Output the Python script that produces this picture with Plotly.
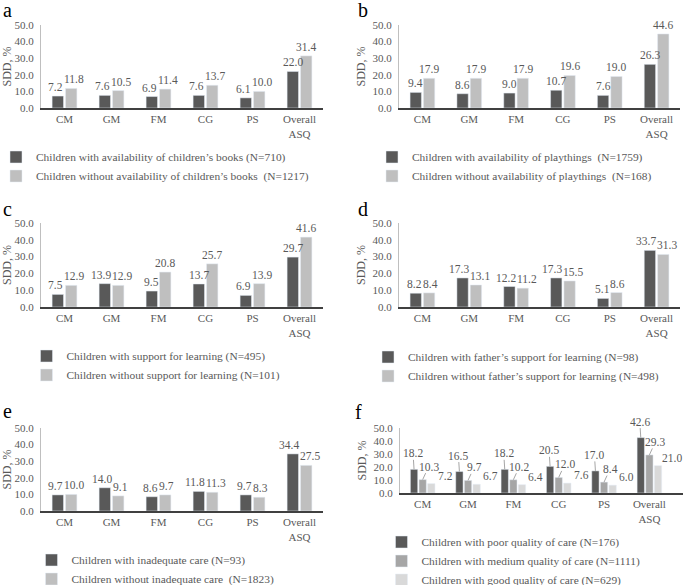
import plotly.graph_objects as go

W, H = 685, 585

categories = ["CM", "GM", "FM", "CG", "PS", "Overall<br>ASQ"]

# a: availability of children's books
books_with = [7.2, 7.6, 6.9, 7.6, 6.1, 22.0]
books_without = [11.8, 10.5, 11.4, 13.7, 10.0, 31.4]
# b: availability of playthings
play_with = [9.4, 8.6, 9.0, 10.7, 7.6, 26.3]
play_without = [17.9, 17.9, 17.9, 19.6, 19.0, 44.6]
# c: support for learning
support_with = [7.5, 13.9, 9.5, 13.7, 6.9, 29.7]
support_without = [12.9, 12.9, 20.8, 25.7, 13.9, 41.6]
# d: father's support for learning
father_with = [8.2, 17.3, 12.2, 17.3, 5.1, 33.7]
father_without = [8.4, 13.1, 11.2, 15.5, 8.6, 31.3]
# e: inadequate care
inadequate_with = [9.7, 14.0, 8.6, 11.8, 9.7, 34.4]
inadequate_without = [10.0, 9.1, 9.7, 11.3, 8.3, 27.5]
# f: quality of care
care_poor = [18.2, 16.5, 18.2, 20.5, 17.0, 42.6]
care_medium = [10.3, 9.7, 10.2, 12.0, 8.4, 29.3]
care_good = [7.2, 6.7, 6.4, 7.6, 6.0, 21.0]

DARK = "#595959"
LIGHT = "#BFBFBF"
MED = "#A6A6A6"
PALE = "#D9D9D9"
TXT = "#595959"
FONT = "Liberation Serif"
LABEL_SIZE = 11.5
BARGAP, BARGROUPGAP = 0.43, 0.15
YMAX = 50

panels = [
    ("a", [("Children with availability of children’s books (N=710)", books_with, DARK),
           ("Children without availability of children’s books  (N=1217)", books_without, LIGHT)],
     (41, 323, 25, 108), (-4, 142.5), (8, 10)),
    ("b", [("Children with availability of playthings  (N=1759)", play_with, DARK),
           ("Children without availability of playthings  (N=168)", play_without, LIGHT)],
     (399, 680, 25, 108), (372, 142.5), (363, 10)),
    ("c", [("Children with support for learning (N=495)", support_with, DARK),
           ("Children without support for learning (N=101)", support_without, LIGHT)],
     (41, 323, 223, 307), (26.5, 341.5), (8, 209)),
    ("d", [("Children with father’s support for learning (N=98)", father_with, DARK),
           ("Children without father’s support for learning (N=498)", father_without, LIGHT)],
     (399, 680, 223, 307), (368, 342.5), (363, 209)),
    ("e", [("Children with inadequate care (N=93)", inadequate_with, DARK),
           ("Children without inadequate care  (N=1823)", inadequate_without, LIGHT)],
     (41, 323, 428, 511), (31.5, 545.5), (8, 411)),
    ("f", [("Children with poor quality of care (N=176)", care_poor, DARK),
           ("Children with medium quality of care (N=1111)", care_medium, MED),
           ("Children with good quality of care (N=629)", care_good, PALE)],
     (400, 683, 428, 493), (381.5, 527.5), (358, 412)),
]

# Excel-style displaced labels with leader lines for panel f (pixel shifts, leader colour)
F_LABEL_STYLE = [(-1, -16, "#A6A6A6"), (6, -13, "#A6A6A6"), (14, -8, "rgba(0,0,0,0)")]


def text_width(s, size):
    return sum(0.25 if ch == "." else 0.5 for ch in s) * size


fig = go.Figure()
layout = {}
annotations = []
for i, (letter, series, geom, leg, lab) in enumerate(panels, start=1):
    sfx = "" if i == 1 else str(i)
    xa, ya, lg = "x" + sfx, "y" + sfx, "legend" + sfx
    x0, x1, yt, yb = geom
    n = len(series)
    slot = (1 - BARGAP) / n
    cat_px = (x1 - x0) / len(categories)
    unit_px = (yb - yt) / YMAX
    for k, (name, vals, color) in enumerate(series):
        fig.add_trace(go.Bar(
            x=categories, y=vals, name=name, marker_color=color,
            xaxis=xa, yaxis=ya, legend=lg, cliponaxis=False,
            hoverinfo="skip",
        ))
    for ci in range(len(categories)):
        texts = [f"{s[1][ci]:.1f}" for s in series]
        vals_c = [s[1][ci] for s in series]
        shifts = [0.0] * n
        if n == 2:
            vgap = abs(vals_c[0] - vals_c[1]) * unit_px
            need = (text_width(texts[0], LABEL_SIZE) + text_width(texts[1], LABEL_SIZE)) / 2 + 1 - slot * cat_px
            if vgap < 14 and need > 0:
                shifts = [-need / 2, need / 2]
        for k in range(n):
            off = -(1 - BARGAP) / 2 + slot * (k + 0.5)
            v = vals_c[k]
            if letter == "f":
                dx, dy, lc = F_LABEL_STYLE[k]
                annotations.append(dict(
                    x=ci + off, y=v, xref=xa, yref=ya, text=texts[k],
                    showarrow=True, arrowhead=0, arrowwidth=1, arrowcolor=lc,
                    ax=dx, ay=dy, standoff=0, borderpad=0,
                    font=dict(size=LABEL_SIZE, color=TXT, family=FONT),
                ))
            else:
                annotations.append(dict(
                    x=ci + off, y=v, xref=xa, yref=ya, text=texts[k],
                    showarrow=False, xanchor="center", yanchor="bottom",
                    xshift=shifts[k], yshift=2, borderpad=0,
                    font=dict(size=LABEL_SIZE, color=TXT, family=FONT),
                ))
    layout["xaxis" + sfx] = dict(
        domain=[x0 / W, x1 / W], anchor=ya, showline=True, linecolor="#404040",
        linewidth=2, ticks="", showgrid=False, tickfont=dict(size=11, color=TXT, family=FONT),
        fixedrange=True,
    )
    layout["yaxis" + sfx] = dict(
        domain=[1 - yb / H, 1 - yt / H], anchor=xa, range=[0, YMAX], dtick=10,
        tickformat=".1f", showgrid=False, zeroline=False, showline=True,
        linecolor=LIGHT, linewidth=1, ticks="", ticklabelstandoff=4,
        tickfont=dict(size=11, color=TXT, family=FONT),
        title=dict(text="SDD, %", font=dict(size=12, color=TXT, family=FONT), standoff=4),
        fixedrange=True,
    )
    lx, ly = leg
    layout[lg] = dict(
        x=lx / W, y=1 - ly / H, xanchor="left", yanchor="top",
        bgcolor="rgba(0,0,0,0)", font=dict(size=11.4, color=TXT, family=FONT),
        traceorder="normal",
    )
    annotations.append(dict(
        text=letter, x=lab[0] / W, y=1 - lab[1] / H, xref="paper", yref="paper",
        xanchor="center", yanchor="middle", showarrow=False,
        font=dict(size=20, color="#000000", family=FONT),
    ))

fig.update_layout(
    **layout,
    annotations=annotations,
    width=W, height=H,
    margin=dict(l=0, r=0, t=0, b=0, pad=0, autoexpand=False),
    paper_bgcolor="white", plot_bgcolor="white",
    barmode="group", bargap=BARGAP, bargroupgap=BARGROUPGAP,
    font=dict(family=FONT, color=TXT),
    showlegend=True,
)

fig.write_html(
    "out.html",
    config={"displayModeBar": False},
    post_script="document.body.style.margin='0';document.body.style.overflow='hidden';",
)
